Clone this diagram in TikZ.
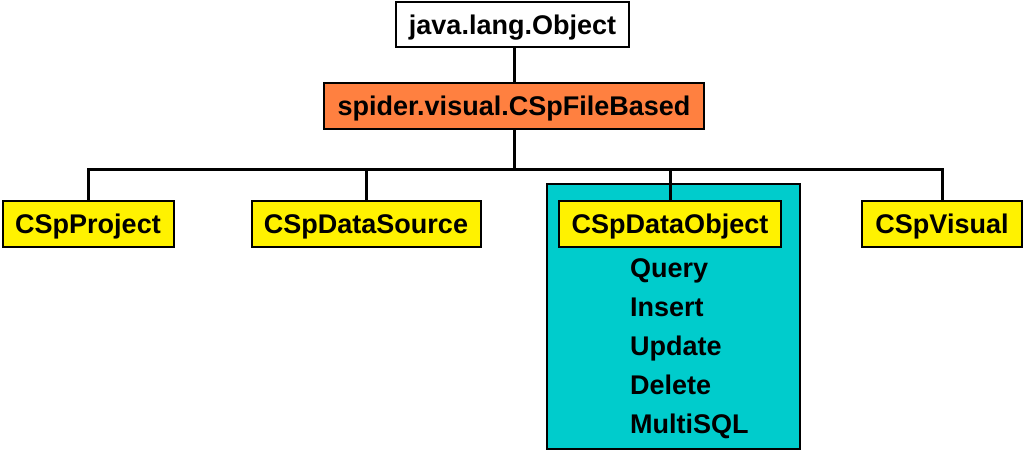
\documentclass[tikz,border=0pt]{standalone}
\usepackage{fontspec}
\setmainfont{Liberation Sans}
\begin{document}
\begin{tikzpicture}[x=1pt,y=1pt,
  box/.style={draw=black,line width=2pt,inner sep=0pt,font=\fontsize{27}{32}\selectfont\bfseries,minimum height=46pt,text height=19.3pt,text depth=0pt},
  yel/.style={box,fill=yellow},
  wire/.style={line width=3pt},
  meth/.style={anchor=base west,inner sep=0pt,font=\fontsize{27}{32}\selectfont\bfseries}]
\useasboundingbox[fill=white] (0,0) rectangle (1024,-451);
\definecolor{orangeb}{RGB}{255,128,64}
\definecolor{cyanb}{RGB}{0,204,204}
\node[draw=black,line width=2.5pt,fill=cyanb,minimum width=253pt,minimum height=265pt,inner sep=0pt] (grp) at (673.5,-316.5) {};
\node[box,fill=white,minimum width=233pt,minimum height=45pt] (obj) at (512.5,-24.5) {java.lang.Object};
\node[box,fill=orangeb,minimum width=380pt] (base) at (514,-106) {spider.visual.CSpFileBased};
\node[yel,minimum width=171pt] (proj) at (88,-223.5) {CSpProject};
\node[yel,minimum width=229pt] (ds) at (366,-223.5) {CSpDataSource};
\node[yel,minimum width=222pt] (dobj) at (670,-223.5) {CSpDataObject};
\node[yel,minimum width=160pt] (vis) at (942,-223.5) {CSpVisual};
\coordinate (bus) at (514,-169);
\draw[wire] (obj.south -| base.north) -- (base.north);
\draw[wire] (base.south) -- (bus);
\draw[wire,line join=miter] (proj.north) |- (bus) -| (vis.north);
\draw[wire] (ds.north) -- (ds.north |- bus);
\draw[wire] (dobj.north) -- (dobj.north |- bus);
\node[meth] (q) at (630,-277) {Query};
\node[meth] (i) at (630,-316) {Insert};
\node[meth] (u) at (630,-355) {Update};
\node[meth] (d) at (630,-394) {Delete};
\node[meth] (m) at (630,-433) {MultiSQL};
\end{tikzpicture}
\end{document}
